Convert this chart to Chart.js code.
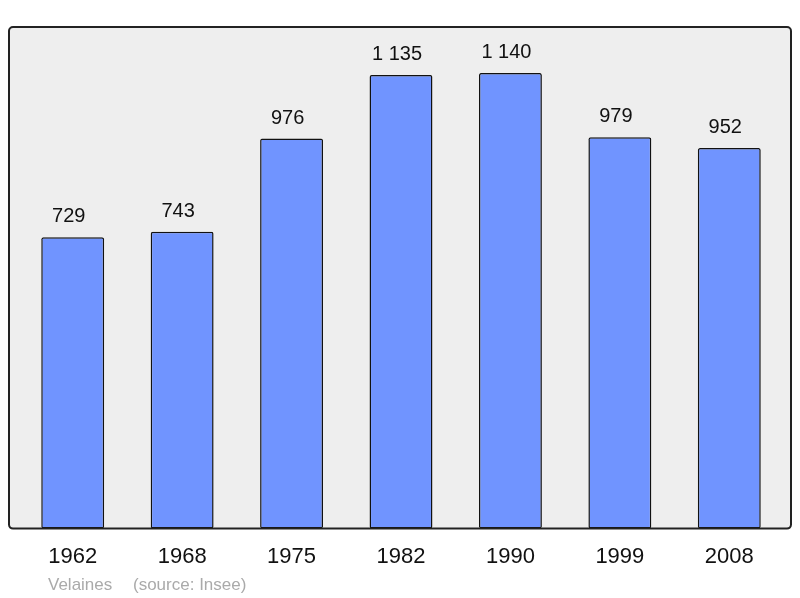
<!DOCTYPE html>
<html>
<head>
<meta charset="utf-8">
<script src="https://cdn.jsdelivr.net/npm/chart.js@4/dist/chart.umd.min.js"></script>
<style>
  html, body { margin: 0; padding: 0; background: #fff; }
  #wrap { width: 800px; height: 598px; }
</style>
</head>
<body>
<div id="wrap"><canvas id="popChart" width="800" height="598"></canvas></div>
<script>
// données de population (Insee)
const annees = ['1962', '1968', '1975', '1982', '1990', '1999', '2008'];
const population = [729, 743, 976, 1135, 1140, 979, 952];
const commune = 'Velaines';
const source = '(source: Insee)';

// format français : espace pour les milliers
function formatNombre(v) {
  return String(v).replace(/\B(?=(\d{3})+(?!\d))/g, ' ');
}

// fond gris arrondi derrière les barres + cadre noir
const cadrePlugin = {
  id: 'cadre',
  beforeDatasetsDraw(chart) {
    const { ctx, chartArea } = chart;
    ctx.save();
    ctx.beginPath();
    ctx.roundRect(chartArea.left - 9, chartArea.top, chartArea.width + 16, chartArea.height, 4);
    ctx.fillStyle = '#eeeeee';
    ctx.fill();
    ctx.restore();
  },
  afterDatasetsDraw(chart) {
    const { ctx, chartArea } = chart;
    ctx.save();
    ctx.beginPath();
    ctx.roundRect(chartArea.left - 9, chartArea.top, chartArea.width + 16, chartArea.height, 4);
    ctx.lineWidth = 2;
    ctx.strokeStyle = '#222';
    ctx.stroke();

    // valeurs au-dessus des barres (légèrement décalées à gauche)
    const meta = chart.getDatasetMeta(0);
    ctx.fillStyle = '#111';
    ctx.font = '20px "Liberation Sans", Arial, sans-serif';
    ctx.textAlign = 'center';
    ctx.textBaseline = 'alphabetic';
    meta.data.forEach((bar, i) => {
      ctx.fillText(formatNombre(population[i]), bar.x - 4, bar.y - 15);
    });

    // légende source
    ctx.fillStyle = '#aaaaaa';
    ctx.font = '17px "Liberation Sans", Arial, sans-serif';
    ctx.textAlign = 'left';
    ctx.fillText(commune, 48, 590);
    ctx.fillText(source, 133, 590);
    ctx.restore();
  }
};

const ctx = document.getElementById('popChart').getContext('2d');
new Chart(ctx, {
  type: 'bar',
  data: {
    labels: annees,
    datasets: [{
      label: 'Population',
      data: population,
      backgroundColor: '#7094ff',
      borderColor: '#111',
      borderWidth: 1.5,
      borderRadius: 2,
      borderSkipped: false,
      barPercentage: 0.575,
      categoryPercentage: 1
    }]
  },
  options: {
    responsive: false,
    animation: false,
    layout: {
      padding: { top: 27, left: 18, right: 16, bottom: 13 }
    },
    plugins: {
      legend: { display: false },
      tooltip: { enabled: false }
    },
    scales: {
      y: {
        display: false,
        min: 0,
        max: 1255
      },
      x: {
        grid: { display: false, drawTicks: false, tickLength: 0 },
        border: { display: false },
        ticks: {
          padding: 15,
          color: '#111',
          font: { size: 22, family: '"Liberation Sans", Arial, sans-serif' }
        }
      }
    }
  },
  plugins: [cadrePlugin]
});
</script>
</body>
</html>
